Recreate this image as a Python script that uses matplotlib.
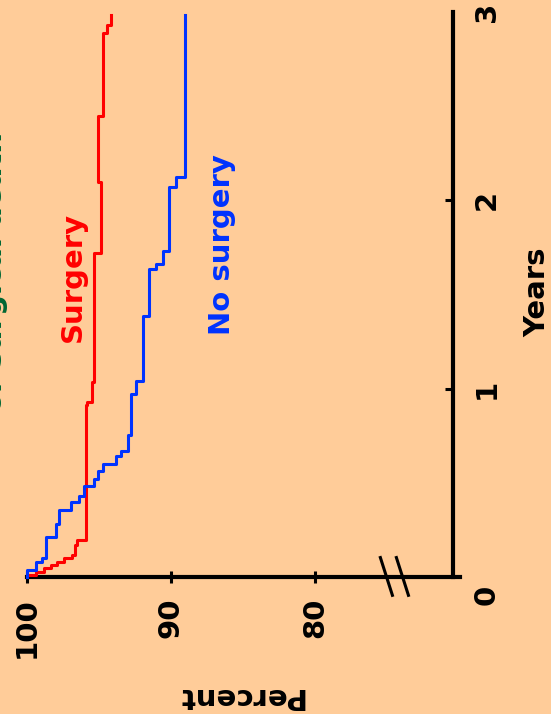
import matplotlib
matplotlib.use('Agg')
import matplotlib.pyplot as plt

# Kaplan-Meier style steps (years, percent after each event)
surgery_years = [0.011, 0.027, 0.048, 0.064, 0.080, 0.101, 0.117, 0.170, 0.197,
                 0.913, 0.930, 1.036, 1.720, 2.100, 2.450, 2.890, 2.930]
surgery_pct = [99.4, 98.8, 98.3, 97.9, 97.4, 96.9, 96.7, 96.5, 95.9,
               95.8, 95.5, 95.35, 94.85, 95.05, 94.7, 94.45, 94.15]

nosurg_years = [0.037, 0.080, 0.101, 0.212, 0.281, 0.356, 0.398, 0.430, 0.483,
                0.521, 0.563, 0.600, 0.643, 0.669, 0.754, 0.972, 1.041, 1.386,
                1.636, 1.662, 1.731, 2.071, 2.124]
nosurg_pct = [99.4, 98.95, 98.7, 98.0, 97.8, 96.95, 96.4, 96.05, 95.35,
              95.05, 94.7, 93.8, 93.45, 93.0, 92.8, 92.45, 91.95, 91.55,
              91.05, 90.55, 90.15, 89.65, 89.05]
follow_up_end = 2.985

pct_ticks = [100, 90, 80]
pct_labels = ['100', '90', '80']
year_ticks = [0, 1, 2, 3]
year_labels = ['', '1', '2', '3']

BG = '#FFCC99'
RED = '#FF0000'
BLUE = '#0033FF'
GREEN = '#006633'
FONT = dict(family='DejaVu Sans', fontweight='bold', fontsize=21)


def step_path(t, s, t_end):
    xs, ys = [100], [0]
    for ti, si in zip(t, s):
        xs += [xs[-1], si]
        ys += [ti, ti]
    xs.append(xs[-1])
    ys.append(t_end)
    return xs, ys


W, H = 551, 714
fig = plt.figure(figsize=(W / 100, H / 100), dpi=100, facecolor=BG)
# whole chart is turned 90 degrees: percent runs left->right, years bottom->top
ax = fig.add_axes([27 / W, (H - 577) / H, (460 - 27) / W, (577 - 12) / H])
ax.set_facecolor(BG)
ax.set_xlim(100, 69.93)
ax.set_ylim(0, 3)

for side in ['left', 'top']:
    ax.spines[side].set_visible(False)
ax.spines['bottom'].set_linewidth(3)
ax.spines['right'].set_linewidth(3)
ax.spines['right'].set_position(('data', 70.4))

xs, ys = step_path(surgery_years, surgery_pct, follow_up_end)
ax.plot(xs, ys, color=RED, lw=2.2, clip_on=False, zorder=3)
xs, ys = step_path(nosurg_years, nosurg_pct, follow_up_end)
ax.plot(xs, ys, color=BLUE, lw=2.2, clip_on=False, zorder=3)

ax.set_xticks(pct_ticks)
ax.set_xticklabels(pct_labels, rotation=90, **FONT)
ax.tick_params(axis='x', direction='inout', length=9, width=2.2, pad=10)

ax.yaxis.tick_right()
ax.set_yticks(year_ticks)
ax.set_yticklabels(year_labels, rotation=90, va='center', **FONT)
ax.tick_params(axis='y', direction='in', length=6, width=2.2, pad=14)
for i in (0, 3):
    ax.yaxis.get_major_ticks()[i].tick2line.set_visible(False)
ax.text(487 / W, (H - 595) / H, '0', transform=fig.transFigure, rotation=90,
        ha='center', va='center', **FONT)

# axis break marks
for x0 in (0.815, 0.852):
    ax.plot([x0, x0 + 0.03], [0.037, -0.035], transform=ax.transAxes,
            color='black', lw=2.2, clip_on=False, solid_capstyle='butt')

# labels
fig.text(240 / W, (H - 696) / H, 'Percent', rotation=180, ha='center',
         va='center', **FONT)
fig.text(537 / W, (H - 292) / H, 'Years', rotation=90, ha='center',
         va='center', **FONT)
fig.text(73 / W, (H - 277) / H, 'Surgery', rotation=90, ha='center',
         va='center', color=RED, **FONT)
fig.text(222 / W, (H - 245) / H, 'No surgery', rotation=90, ha='center',
         va='center', color=BLUE, **FONT)
# title line sits mostly beyond the left edge, as in the reference
fig.text(-6 / W, (H - 272) / H, 'or surgical death', rotation=90,
         ha='center', va='center', color=GREEN, **FONT)

fig.savefig('out.png', dpi=100, facecolor=BG)
